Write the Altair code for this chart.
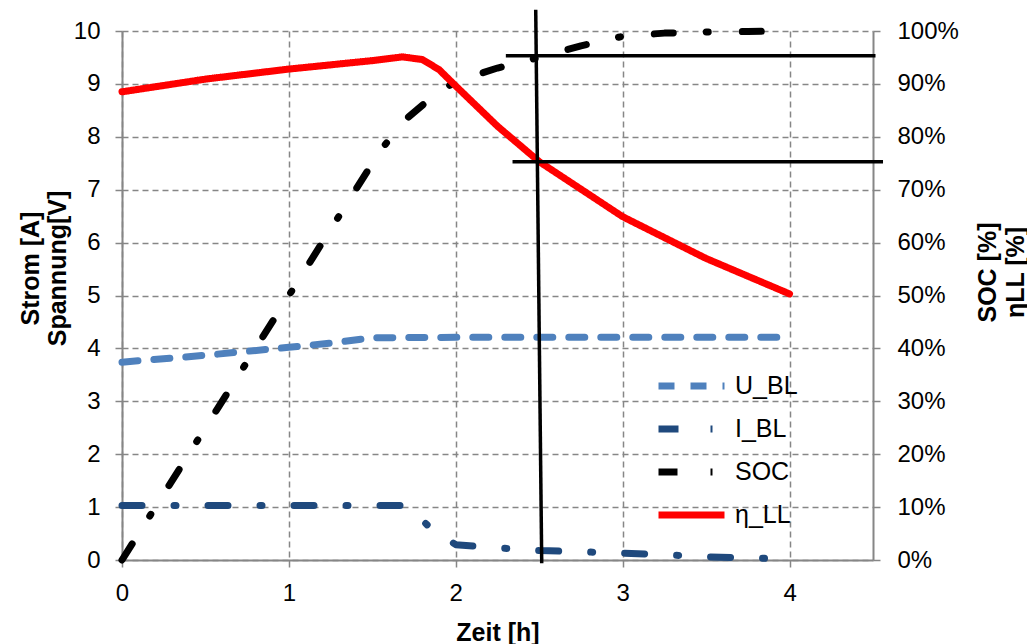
import altair as alt
import pandas as pd

# ---------------- data ----------------
series_names = ["U_BL", "I_BL", "SOC", "η_LL"]
series_colors = ["#4F81BD", "#1F497D", "#000000", "#FF0000"]
series_dashes = [[16, 16], [20, 32, 2, 32], [19, 33, 2, 34], [1, 0]]

t_u = [0, 0.5, 1.0, 1.25, 1.5, 2.0, 2.5, 3.0, 3.5, 4.0]
u_bl = [3.74, 3.87, 4.02, 4.10, 4.20, 4.21, 4.21, 4.21, 4.21, 4.21]

t_i = [0, 0.5, 1.0, 1.5, 1.68, 1.75, 1.85, 2.0, 2.25, 2.5, 3.0, 3.25, 3.5, 4.0]
i_bl = [1.03, 1.03, 1.03, 1.03, 1.03, 0.9, 0.6, 0.29, 0.23, 0.18, 0.13, 0.10, 0.06, 0.02]

t_soc = [0, 1.55, 1.7, 1.85, 2.0, 2.25, 2.5, 2.75, 3.0, 3.25, 3.5, 3.75, 4.0]
soc = [0, 77.5, 83.3, 87.3, 90.5, 93.0, 95.0, 97.2, 99.0, 99.6, 99.8, 99.9, 100.0]

t_eta = [0, 0.5, 1.0, 1.5, 1.68, 1.8, 1.9, 2.0, 2.25, 2.5, 3.0, 3.5, 4.0]
eta = [88.5, 90.9, 92.8, 94.4, 95.1, 94.6, 92.7, 89.6, 82.0, 75.3, 64.9, 57.0, 50.3]

# annotation lines (time in h, value in %)
ann_x = [2.479, 2.30, 2.34]
ann_x2 = [2.515, 4.515, 4.56]
ann_y = [104.0, 95.3, 75.3]
ann_y2 = [-0.6, 95.3, 75.3]

x_ticks = [0, 1, 2, 3, 4]
left_ticks = list(range(0, 11))
right_ticks = list(range(0, 101, 10))

# ---------------- tables ----------------
rows = []
for name, ts, vs in [("U_BL", t_u, u_bl), ("I_BL", t_i, i_bl),
                     ("SOC", t_soc, soc), ("η_LL", t_eta, eta)]:
    for k, (t, v) in enumerate(zip(ts, vs)):
        rows.append({"t": t, "v": v, "series": name, "k": k})
df = pd.DataFrame(rows)
df_left = df[df.series.isin(["U_BL", "I_BL"])]
df_right = df[df.series.isin(["SOC", "η_LL"])]
df_ann = pd.DataFrame({"x": ann_x, "x2": ann_x2, "y": ann_y, "y2": ann_y2})

FONT = "Liberation Sans"
GRAY = "#868686"
LABEL_SIZE = 24

x_scale = alt.Scale(domain=[0, 4.5], nice=False, zero=False)
x_axis = alt.Axis(values=x_ticks, title="Zeit [h]", format="d", grid=True, labelFlush=False,
                  gridDash=[6, 4], gridColor=GRAY, gridWidth=1.5,
                  domainColor=GRAY, domainWidth=2, tickColor=GRAY, tickWidth=1.5,
                  tickSize=7, labelPadding=14, titleBaseline="middle", titleY=72)

left_scale = alt.Scale(domain=[0, 10], nice=False)
left_axis = alt.Axis(values=left_ticks, title=["Strom [A]", "Spannung[V]"], grid=True,
                     labelFlush=False,
                     gridDash=[6, 4], gridColor=GRAY, gridWidth=1.5,
                     domainColor=GRAY, domainWidth=2, tickColor=GRAY, tickWidth=1.5,
                     tickSize=7, labelPadding=15, titleAngle=270, titleBaseline="middle",
                     titleAlign="center", titleX=-92, titleY=237, titleLineHeight=27)

right_scale = alt.Scale(domain=[0, 100], nice=False)
right_axis = alt.Axis(values=right_ticks, orient="right", title=["SOC [%]", "ηLL [%]"],
                      grid=False, labelFlush=False, labelExpr="datum.value + '%'",
                      domainColor=GRAY, domainWidth=2, tickColor=GRAY, tickWidth=1.5,
                      tickSize=7, labelPadding=17, titleAngle=270, titleBaseline="middle",
                      titleAlign="center", titleX=114, titleY=241, titleLineHeight=28)

legend = alt.Legend(orient="none", legendX=533, legendY=340, title=None,
                    symbolType="stroke", symbolSize=4356, symbolStrokeWidth=7,
                    labelFontSize=25, labelFont=FONT, labelColor="black",
                    labelOffset=7, clipHeight=30, rowPadding=13, padding=0)

color_enc = alt.Color("series:N", scale=alt.Scale(domain=series_names, range=series_colors),
                      sort=series_names, legend=legend)
dash_enc = alt.StrokeDash("series:N", scale=alt.Scale(domain=series_names, range=series_dashes),
                          sort=series_names, legend=legend)

line_props = dict(strokeWidth=7, strokeCap="round", strokeJoin="round")

left_lines = alt.Chart(df_left).mark_line(**line_props).encode(
    x=alt.X("t:Q", scale=x_scale, axis=x_axis),
    y=alt.Y("v:Q", scale=left_scale, axis=left_axis),
    color=color_enc, strokeDash=dash_enc, order="k:Q",
)

right_lines = alt.Chart(df_right).mark_line(**line_props).encode(
    x=alt.X("t:Q", scale=x_scale, axis=x_axis),
    y=alt.Y("v:Q", scale=right_scale, axis=right_axis),
    color=color_enc, strokeDash=dash_enc, order="k:Q",
)

ann = alt.Chart(df_ann).mark_rule(color="black", strokeWidth=3.5).encode(
    x=alt.X("x:Q", scale=x_scale, axis=x_axis),
    x2="x2:Q",
    y=alt.Y("y:Q", scale=right_scale, axis=right_axis),
    y2="y2:Q",
)

right = alt.layer(right_lines, ann)

chart = alt.layer(left_lines, right).resolve_scale(y="independent").properties(
    width=751, height=529,
    autosize=alt.AutoSizeParams(type="none"),
    padding={"left": 114, "top": 23, "right": 154, "bottom": 84},
).configure_view(stroke=None).configure_axis(
    labelFont=FONT, labelFontSize=LABEL_SIZE, labelColor="black",
    titleFont=FONT, titleFontSize=25, titleFontWeight="bold", titleColor="black",
)

chart.save("out.html", embed_options={"renderer": "svg", "actions": False})
